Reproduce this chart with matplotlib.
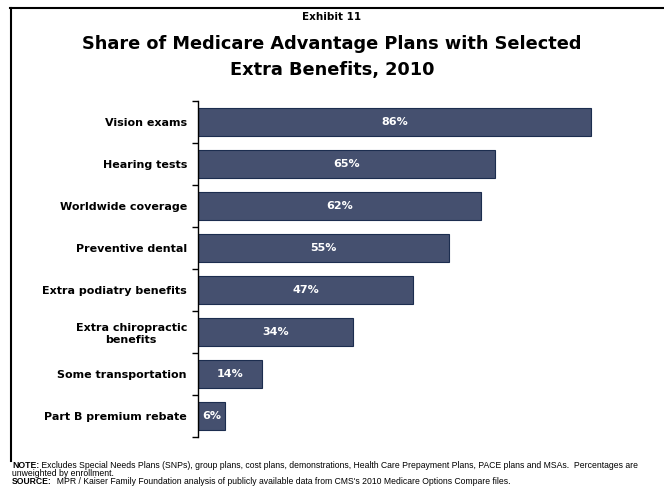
import numpy as np
import matplotlib.pyplot as plt
from matplotlib.lines import Line2D

categories = ['Vision exams', 'Hearing tests', 'Worldwide coverage', 'Preventive dental',
              'Extra podiatry benefits', 'Extra chiropractic\nbenefits',
              'Some transportation', 'Part B premium rebate']
values = [86, 65, 62, 55, 47, 34, 14, 6]

fig = plt.figure(figsize=(6.64, 4.93), dpi=100)
ax = fig.add_axes([198/664, 1-437/493, 457/664, 336/493])

y = np.arange(len(categories))
ax.barh(y, values, height=0.67, color='#45506f', edgecolor='#1c2d4f', linewidth=0.8)
for yi, v in zip(y, values):
    ax.text(v/2, yi, f'{v}%', ha='center', va='center', color='white',
            fontsize=8, fontweight='bold')

ax.set_xlim(0, 100)
ax.set_ylim(len(categories)-0.5, -0.5)
ax.set_yticks(np.arange(-0.5, len(categories)), labels=[])
ax.set_yticks(y, labels=categories, minor=True)
ax.tick_params(axis='y', which='major', direction='out', length=4, width=1)
ax.tick_params(axis='y', which='minor', length=0, pad=8, labelsize=8)
for lab in ax.get_yticklabels(minor=True):
    lab.set_fontweight('bold')
    lab.set_horizontalalignment('right')
    lab.set_multialignment('center')
ax.set_xticks([])
for s in ['top', 'right', 'bottom']:
    ax.spines[s].set_visible(False)
ax.spines['left'].set_linewidth(1)

# frame
fig.add_artist(Line2D([10/664, 1], [1-8/493, 1-8/493], color='black', lw=1.5, transform=fig.transFigure))
fig.add_artist(Line2D([11/664, 11/664], [1-461/493, 1-8/493], color='black', lw=1.5, transform=fig.transFigure))

fig.text(0.5, 1-17/493, 'Exhibit 11', ha='center', va='center', fontsize=7.5, fontweight='bold')
fig.text(0.5, 1-44/493, 'Share of Medicare Advantage Plans with Selected',
         ha='center', va='center', fontsize=12.8, fontweight='bold')
fig.text(0.5, 1-70/493, 'Extra Benefits, 2010',
         ha='center', va='center', fontsize=12.8, fontweight='bold')

fn = 'Liberation Sans'
fs = 6.2
t1 = fig.text(12/664, 1-466/493, 'NOTE:', fontsize=fs, family=fn, fontweight='bold', va='center')
ax.annotate(' Excludes Special Needs Plans (SNPs), group plans, cost plans, demonstrations, '
            'Health Care Prepayment Plans, PACE plans and MSAs.  Percentages are',
            xy=(1, 0.5), xycoords=t1, va='center', fontsize=fs, family=fn, annotation_clip=False)
fig.text(12/664, 1-474/493, 'unweighted by enrollment.', fontsize=fs, family=fn, va='center')
t2 = fig.text(12/664, 1-482/493, 'SOURCE:', fontsize=fs, family=fn, fontweight='bold', va='center')
ax.annotate("  MPR / Kaiser Family Foundation analysis of publicly available data "
            "from CMS's 2010 Medicare Options Compare files.",
            xy=(1, 0.5), xycoords=t2, va='center', fontsize=fs, family=fn, annotation_clip=False)

fig.savefig('out.png', dpi=100)
